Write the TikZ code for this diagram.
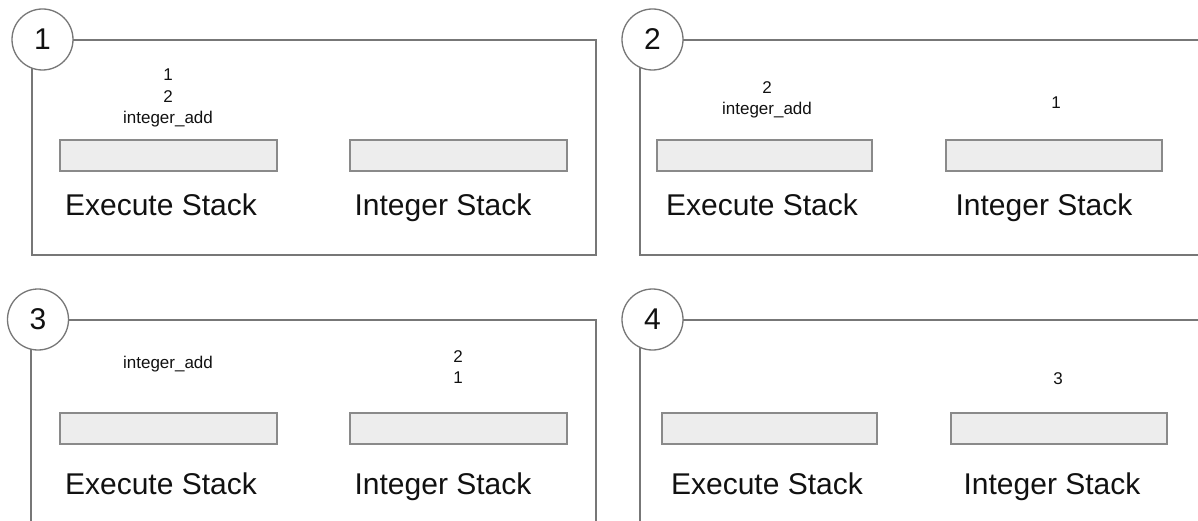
\documentclass[tikz,border=0pt]{standalone}
\usepackage{fontspec}
\setmainfont{Liberation Sans}
\definecolor{framecol}{HTML}{777777}
\definecolor{barfill}{HTML}{EDEDED}
\definecolor{barline}{HTML}{8A8A8A}
\definecolor{txt}{HTML}{111111}
\begin{document}
\begin{tikzpicture}[x=1pt,y=-1pt,
  frame/.style={draw=framecol,line width=1.3pt},
  numcirc/.style={circle,draw=framecol,fill=white,line width=1.3pt,minimum size=61pt,inner sep=0pt,font=\fontsize{30}{32}\selectfont,text=txt},
  bar/.style={draw=barline,fill=barfill,line width=1.3pt},
  biglabel/.style={font=\fontsize{30}{34}\selectfont,text=txt,inner sep=0pt,anchor=base},
  small/.style={font=\fontsize{17}{21.5}\selectfont,text=txt,align=center,inner sep=0pt}]
\useasboundingbox (0,0) rectangle (1198,521);
\clip (0,0) rectangle (1198,521);
% frames
\draw[frame] (32,40) rectangle (596,255);
\draw[frame] (640,40) rectangle (1230,255);
\draw[frame] (31,320) rectangle (596,560);
\draw[frame] (640,320) rectangle (1230,560);
% circles
\node[numcirc] (c1) at (42.5,39.5) {1};
\node[numcirc] (c2) at (652.5,39.5) {2};
\node[numcirc] (c3) at (38,319.5) {3};
\node[numcirc] (c4) at (652.5,319.5) {4};
% panel 1
\draw[bar] (60,140) rectangle (277,171);
\draw[bar] (350,140) rectangle (567,171);
\node[small] (p1e) at (168,98) {1\\2\\integer\_add};
\node[biglabel] (p1a) at (161,215) {Execute Stack};
\node[biglabel] (p1b) at (443,215) {Integer Stack};
% panel 2
\draw[bar] (657,140) rectangle (872,171);
\draw[bar] (946,140) rectangle (1162,171);
\node[small] (p2e) at (767,100) {2\\integer\_add};
\node[small] (p2i) at (1056,103) {1};
\node[biglabel] (p2a) at (762,215) {Execute Stack};
\node[biglabel] (p2b) at (1044,215) {Integer Stack};
% panel 3
\draw[bar] (60,413) rectangle (277,444);
\draw[bar] (350,413) rectangle (567,444);
\node[small] (p3e) at (168,364) {integer\_add};
\node[small] (p3i) at (458,367) {2\\1};
\node[biglabel] (p3a) at (161,494) {Execute Stack};
\node[biglabel] (p3b) at (443,494) {Integer Stack};
% panel 4
\draw[bar] (662,413) rectangle (877,444);
\draw[bar] (951,413) rectangle (1167,444);
\node[small] (p4i) at (1058,379) {3};
\node[biglabel] (p4a) at (767,494) {Execute Stack};
\node[biglabel] (p4b) at (1052,494) {Integer Stack};
\end{tikzpicture}
\end{document}
